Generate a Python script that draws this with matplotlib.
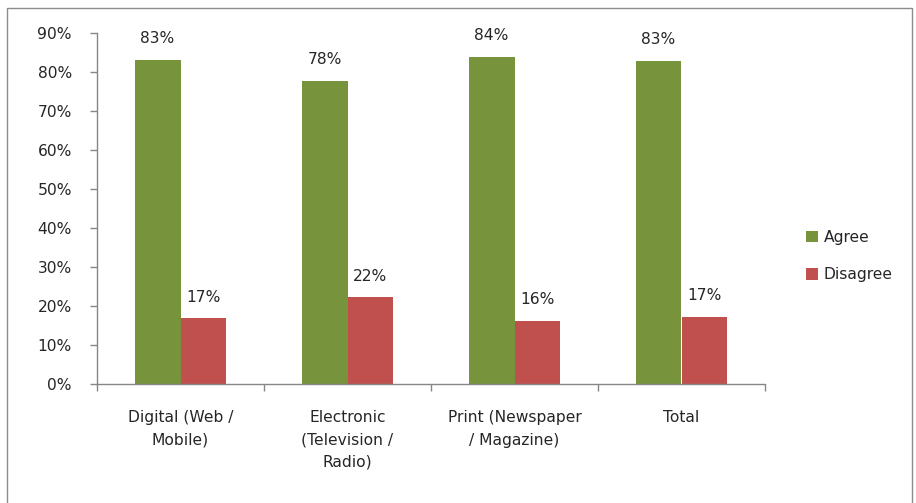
import matplotlib
matplotlib.use("Agg")
import matplotlib.pyplot as plt
from matplotlib.patches import Rectangle
import numpy as np

categories = ["Digital (Web /\nMobile)", "Electronic\n(Television /\nRadio)",
              "Print (Newspaper\n/ Magazine)", "Total"]
agree = [83.2, 77.8, 83.8, 82.8]
disagree = [16.8, 22.2, 16.2, 17.2]
series_names = ["Agree", "Disagree"]
yticks = [0, 10, 20, 30, 40, 50, 60, 70, 80, 90]

GREEN = "#77933C"
RED = "#C0504D"
TEXT = "#262626"
AXIS = "#868686"
FS = 11.2

plt.rcParams["font.family"] = ["DejaVu Sans"]
plt.rcParams["font.size"] = FS

W, H = 916, 503
fig = plt.figure(figsize=(W / 100, H / 100), dpi=100)
fig.patches.append(Rectangle((7 / W, 0 - 0.01), (912 - 7) / W, 1 - 8 / H + 0.01,
                             transform=fig.transFigure, fill=False,
                             edgecolor="#8c8c8c", linewidth=1.0))

ax = fig.add_axes([97 / W, 1 - 384 / H, (765 - 97) / W, (384 - 33) / H])

x = np.arange(len(categories))
bw = 0.275
b1 = ax.bar(x - bw / 2, agree, bw, color=GREEN, label=series_names[0])
b2 = ax.bar(x + bw / 2, disagree, bw, color=RED, label=series_names[1])

for bars, vals in ((b1, agree), (b2, disagree)):
    for rect, v in zip(bars, vals):
        ax.annotate(f"{v:.0f}%", (rect.get_x() + rect.get_width() / 2, v),
                    xytext=(0, 10), textcoords="offset points",
                    ha="center", va="bottom", color=TEXT, fontsize=FS)

ax.set_xlim(-0.5, len(categories) - 0.5)
ax.set_ylim(0, 90)
ax.set_yticks(yticks)
ax.set_yticklabels([f"{t}%" for t in yticks], color=TEXT)
ax.set_xticks(x)
ax.set_xticklabels(categories, color=TEXT, linespacing=1.6, va="top")
ax.set_xticks(np.arange(len(categories) + 1) - 0.5, minor=True)
ax.tick_params(axis="x", which="major", length=0, pad=19)
ax.tick_params(axis="x", which="minor", length=5, color=AXIS, width=1)
ax.tick_params(axis="y", length=5, color=AXIS, width=1, pad=13)

for side in ("top", "right"):
    ax.spines[side].set_visible(False)
for side in ("left", "bottom"):
    ax.spines[side].set_color(AXIS)
    ax.spines[side].set_linewidth(1.0)

leg = fig.legend(loc="center left", bbox_to_anchor=(792 / W, 1 - 256 / H),
                 frameon=False, handlelength=0.75, handleheight=0.75,
                 handletextpad=0.4, labelspacing=1.45, fontsize=FS)
for t in leg.get_texts():
    t.set_color(TEXT)

fig.savefig("out.png", dpi=100)
